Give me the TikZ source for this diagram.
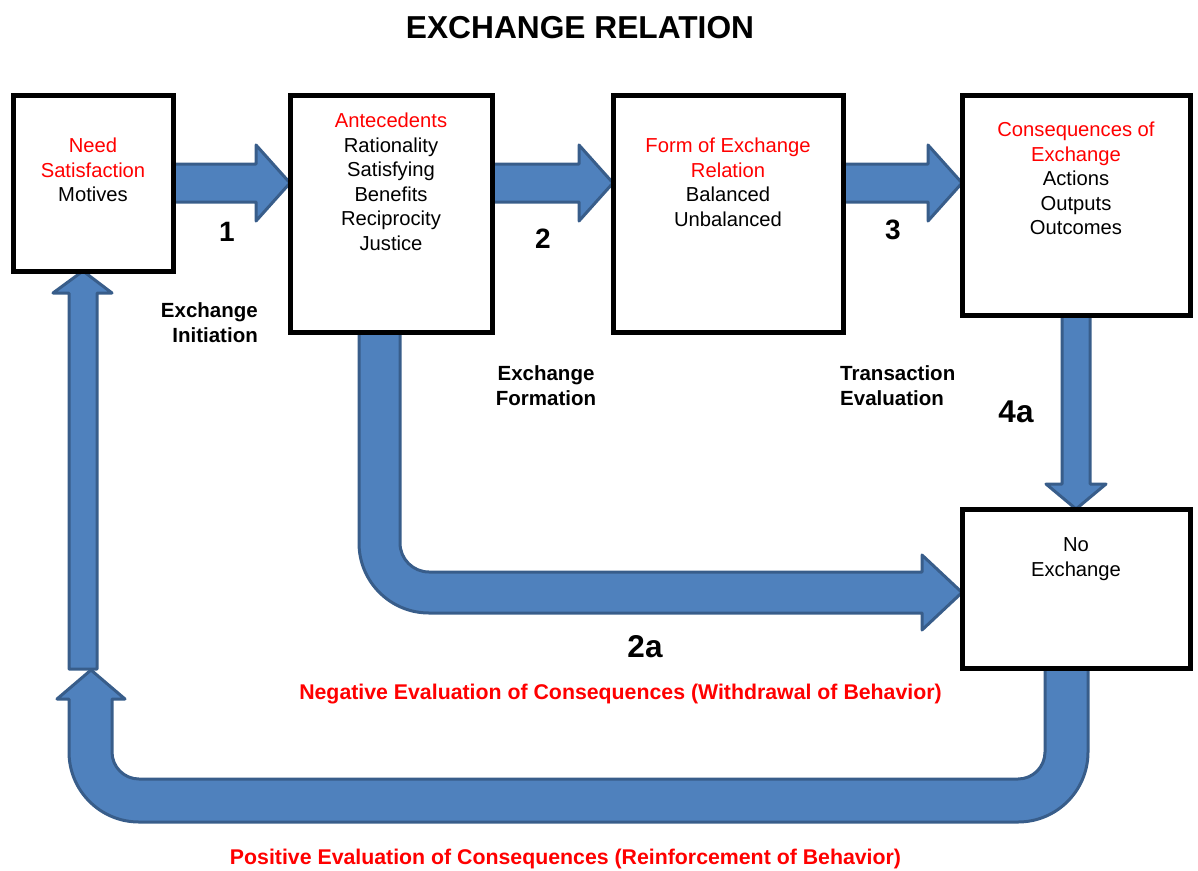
\documentclass[tikz,border=0pt]{standalone}
\usepackage{fontspec}
\setmainfont{Liberation Sans}
\usepackage{xcolor}
\usepackage{tikz}
\usetikzlibrary{
  positioning,
  calc,
  backgrounds
}
\definecolor{arrowblue}{HTML}{4F81BD}
\definecolor{arrowedge}{HTML}{385D8A}
\definecolor{headred}{HTML}{FF0000}
\tikzstyle{stagebox} = [
  rectangle, draw=black, line width=5pt, fill=white,
  inner sep=0pt, outer sep=0pt
]
\tikzstyle{stagetext} = [align=center, inner sep=0pt, font=\fontsize{20.2}{24.5}\selectfont]
\tikzstyle{steplabel} = [inner sep=0pt, font=\bfseries\fontsize{20.5}{25}\selectfont]
\tikzstyle{stepnum} = [inner sep=0pt, anchor=base, font=\bfseries\fontsize{28}{30}\selectfont]
\tikzstyle{branchnum} = [inner sep=0pt, anchor=base, font=\bfseries\fontsize{31.5}{34}\selectfont]
\tikzstyle{evallabel} = [inner sep=0pt, anchor=base, text=headred, font=\bfseries\fontsize{21.3}{25}\selectfont]
\tikzstyle{blockarrow} = [fill=arrowblue, draw=arrowedge, line width=3pt, line join=round]

\begin{document}
\begin{tikzpicture}[x=1pt, y=-1pt]
\useasboundingbox (0,0) rectangle (1198,870);

% --- Title ---
\node[inner sep=0pt, anchor=base, font=\bfseries\fontsize{31.7}{36}\selectfont] (title) at (580,38) {EXCHANGE RELATION};

% --- Boxes ---
\node[stagebox, minimum width=160pt, minimum height=176pt] (need) at (93,183) {};
\node[stagebox, minimum width=202pt, minimum height=237pt, right=117pt of need.north east, anchor=north west] (antecedents) {};
\node[stagebox, minimum width=230pt, minimum height=237pt, right=121pt of antecedents.north east, anchor=north west] (form) {};
\node[stagebox, minimum width=228pt, minimum height=220pt, right=119pt of form.north east, anchor=north west] (consequences) {};
\node[stagebox, minimum width=228pt, minimum height=159pt, below=194pt of consequences] (noexchange) {};

% --- Box texts ---
\node[stagetext, below=42.7pt of need.north] (needtext)
  {\textcolor{headred}{Need}\\\textcolor{headred}{Satisfaction}\\Motives};
\node[stagetext, below=17.7pt of antecedents.north] (antecedentstext)
  {\textcolor{headred}{Antecedents}\\Rationality\\Satisfying\\Benefits\\Reciprocity\\Justice};
\node[stagetext, below=42.7pt of form.north] (formtext)
  {\textcolor{headred}{Form of Exchange}\\\textcolor{headred}{Relation}\\Balanced\\Unbalanced};
\node[stagetext, below=26.7pt of consequences.north] (consequencestext)
  {\textcolor{headred}{Consequences of}\\\textcolor{headred}{Exchange}\\Actions\\Outputs\\Outcomes};
\node[stagetext, below=28.7pt of noexchange.north] (noexchangetext) {No\\Exchange};

% --- Arrows ---
\begin{scope}[on background layer]
\foreach \a/\b in {need/antecedents, antecedents/form, form/consequences}
  \draw[blockarrow] let \p1=(\a.east |- need.east), \p2=(\b.west |- need.east) in
    (\x1,\y1+19) -- (\x2-34,\y1+19) -- (\x2-34,\y1+38) -- (\x2,\y1)
    -- (\x2-34,\y1-38) -- (\x2-34,\y1-19) -- (\x1,\y1-19) -- cycle;
\draw[blockarrow] let \p1=(consequences.south), \p2=(noexchange.north) in
  (\x1-14,\y1) -- (\x1-14,\y2+25) -- (\x1-30,\y2+25) -- (\x2,\y2)
  -- (\x1+30,\y2+25) -- (\x1+14,\y2+25) -- (\x1+14,\y1) -- cycle;
\draw[blockarrow] (antecedents.south -| 359,0) -- (359,543)
  .. controls (359,581.7) and (390.3,613) .. (429,613) -- (922,613) -- (922,630)
  -- (noexchange.west |- 0,592.5) -- (922,555) -- (922,572) -- (429,572)
  .. controls (413,572) and (400,559) .. (400,543) -- (antecedents.south -| 400,0) -- cycle;
\draw[blockarrow] (69,669) -- (69,293) -- (53,293) -- (need.south -| 83,0)
  -- (112,293) -- (97,293) -- (97,669) -- cycle;
\draw[blockarrow] (noexchange.south -| 1045,0) -- (1045,752)
  .. controls (1045,766.9) and (1032.9,779) .. (1018,779) -- (139,779)
  .. controls (124.1,779) and (112,766.9) .. (112,752) -- (112,699) -- (125,699)
  -- (91,670) -- (57,699) -- (69,699) -- (69,752)
  .. controls (69,790.7) and (100.3,822) .. (139,822) -- (1018,822)
  .. controls (1056.7,822) and (1088,790.7) .. (1088,752) -- (noexchange.south -| 1088,0) -- cycle;
\end{scope}

% --- Labels ---
\node[stepnum] (one) at (227,241) {1};
\node[stepnum] (two) at (543,248) {2};
\node[stepnum] (three) at (893,239) {3};
\node[branchnum] (foura) at (1016,422) {4a};
\node[branchnum] (twoa) at (645,657) {2a};
\node[steplabel, align=right, anchor=north east] (initiation) at (258,302.3) {Exchange\\Initiation};
\node[steplabel, align=center, anchor=north] (formation) at (546,365.3) {Exchange\\Formation};
\node[steplabel, align=left, anchor=north west] (evaluation) at (840,365.3) {Transaction\\Evaluation};
\node[evallabel] (negative) at (620.5,699) {Negative Evaluation of Consequences (Withdrawal of Behavior)};
\node[evallabel] (positive) at (565.5,864) {Positive Evaluation of Consequences (Reinforcement of Behavior)};

\end{tikzpicture}
\end{document}
